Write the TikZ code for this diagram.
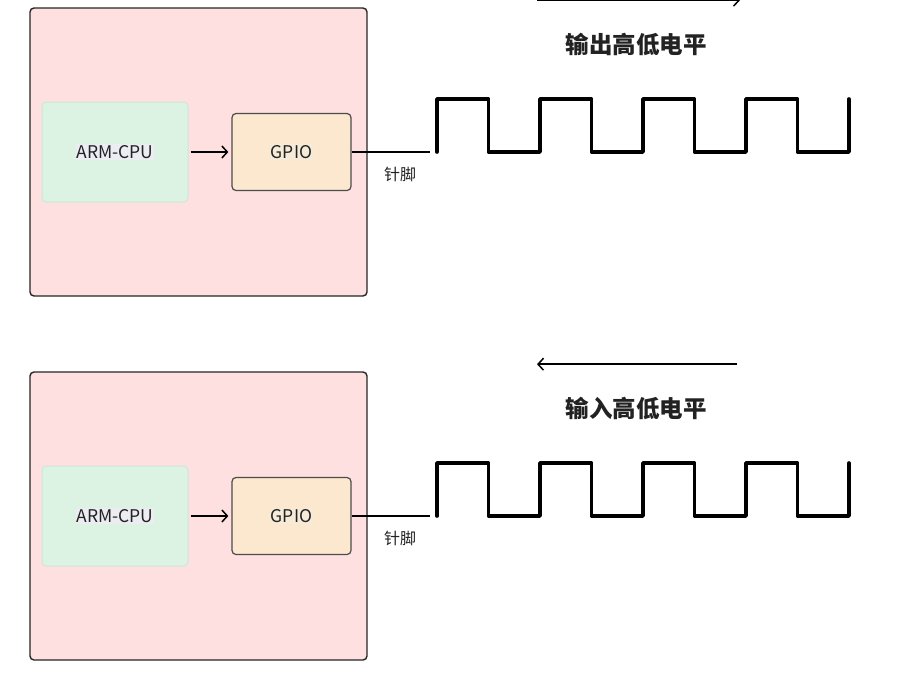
\documentclass[tikz,border=0pt]{standalone}
\usepackage{fontspec}
\setmainfont{Noto Sans CJK SC}
\usepackage{xcolor}
\usetikzlibrary{arrows.meta}

\definecolor{boardpink}{HTML}{FFE0E0}
\definecolor{cpugreen}{HTML}{DCF2E3}
\definecolor{cpuedge}{HTML}{CFE6D8}
\definecolor{gpiotan}{HTML}{FBE8CE}
\definecolor{textgray}{HTML}{222222}
\definecolor{cpulabel}{HTML}{ECEDF2}
\definecolor{gpiolabel}{HTML}{F6EBD8}

\begin{document}
\begin{tikzpicture}[x=1pt,y=-1pt,
  board/.style={draw=black!85, fill=boardpink, line width=1.4pt,
    rounded corners=4pt, minimum width=337pt, minimum height=288pt},
  cpubox/.style={draw=cpuedge, fill=cpugreen, line width=1pt,
    rounded corners=4pt, minimum width=146pt, minimum height=100pt,
    font=\fontsize{17.5}{19}\selectfont, text=textgray},
  gpiobox/.style={draw=black!70, fill=gpiotan, line width=1.2pt,
    rounded corners=4pt, minimum width=119pt, minimum height=77pt,
    font=\fontsize{17.5}{19}\selectfont, text=textgray},
  flow/.style={-{Straight Barb[length=5.5pt,width=12pt]}, line width=1.5pt},
  wave/.style={line width=3.6pt, line cap=round, line join=round},
  heading/.style={font=\bfseries\fontsize{23.5}{25}\selectfont, text=textgray},
  pinlabel/.style={font=\fontsize{16}{18}\selectfont, text=textgray}]
\useasboundingbox (0,0) rectangle (905,691);
\clip (0,0) rectangle (905,691);
\fill[white] (0,0) rectangle (905,691);

% one panel per direction: output on top, input below
\foreach \i/\dy/\sx/\ex/\title in {0/0/537/740/输出高低电平, 1/364/737/537/输入高低电平} {
  \node[board] (board\i) at (198.5,\dy+152) {};
  \node[cpubox] (cpu\i) at (115,\dy+152)
    {\setlength{\fboxsep}{1pt}\colorbox{cpulabel}{ARM-CPU}};
  \node[gpiobox] (gpio\i) at (291.5,\dy+152)
    {\setlength{\fboxsep}{1pt}\colorbox{gpiolabel}{GPIO}};
  \draw[flow] ([xshift=2pt]cpu\i.east) -- ([xshift=-3pt]gpio\i.west);

  % pin line out of the gpio
  \coordinate (pin\i) at (430,\dy+152);
  \draw[line width=1.2pt] (gpio\i.east) -- (pin\i);
  \node[pinlabel] (pinname\i) at (400,\dy+174) {针脚};

  % level signal
  \draw[wave] (437,\dy+152)
    \foreach \k in {0,...,3} { -- ++(0,-53) -- ++(51.5,0) -- ++(0,53) -- ++(51.5,0) }
    -- ++(0,-53);

  % direction of the levels
  \node[heading] (title\i) at (636,\dy+45) {\title};
  \coordinate (from\i) at (\sx,\dy+0.2);
  \coordinate (to\i) at (\ex,\dy+0.2);
  \draw[flow] (from\i) -- (to\i);
}
\end{tikzpicture}
\end{document}
